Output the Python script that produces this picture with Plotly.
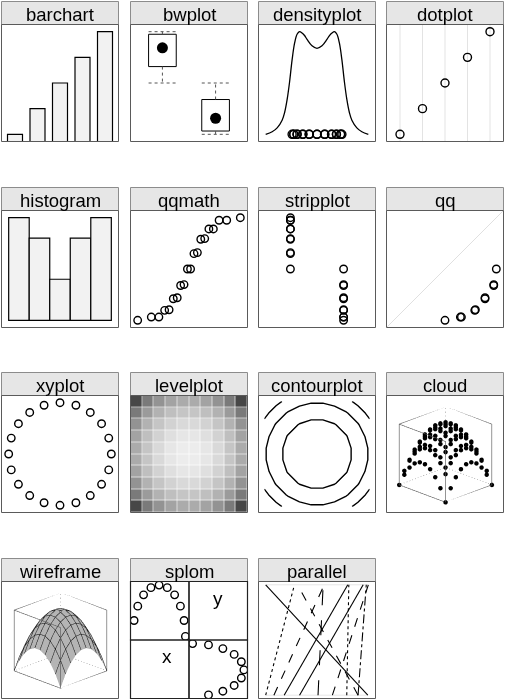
import numpy as np
import plotly.graph_objects as go

W, H = 506, 699

# ---------------- data ----------------
bar_categories = ["A", "B", "C", "D", "E"]
bar_values = [1, 2, 3, 4, 5]

group_a = [5.0, 6.5, 6.6, 7.9, 7.96, 8.9, 8.9, 9.75, 9.75, 10.0]
group_b = [0.0, 0.32, 0.32, 0.97, 1.03, 2.1, 2.2, 3.39, 3.48, 5.0]

density_x = [-5.3, -4.0, -3.0, -2.0, -1.5, -1.0, -0.5, 0.0, 0.5, 1.0, 1.5, 2.0, 2.5, 3.0,
             4.0, 5.0, 6.0, 7.0, 7.5, 8.0, 8.5, 9.0, 9.5, 10.0, 10.5, 11.0, 11.5, 12.0,
             13.0, 14.0, 15.3]
density_y = [0.000, 0.002, 0.005, 0.011, 0.017, 0.027, 0.041, 0.058, 0.071, 0.078, 0.080,
             0.079, 0.077, 0.074, 0.069, 0.067, 0.069, 0.074, 0.077, 0.079, 0.080, 0.078,
             0.071, 0.058, 0.041, 0.027, 0.017, 0.011, 0.005, 0.002, 0.000]

hist_edges = [0, 2, 4, 6, 8, 10]

normal_quantiles = [-1.96, -1.44, -1.15, -0.93, -0.76, -0.6, -0.45, -0.32, -0.19, -0.06,
                    0.06, 0.19, 0.32, 0.45, 0.6, 0.76, 0.93, 1.15, 1.44, 1.96]

circle_x = [1.0, 0.95, 0.81, 0.59, 0.31, 0.0, -0.31, -0.59, -0.81, -0.95,
            -1.0, -0.95, -0.81, -0.59, -0.31, 0.0, 0.31, 0.59, 0.81, 0.95]
circle_y = [0.0, 0.31, 0.59, 0.81, 0.95, 1.0, 0.95, 0.81, 0.59, 0.31,
            0.0, -0.31, -0.59, -0.81, -0.95, -1.0, -0.95, -0.81, -0.59, -0.31]

grid_coords = [-0.9, -0.7, -0.5, -0.3, -0.1, 0.1, 0.3, 0.5, 0.7, 0.9]
grid_z = [
    [162, 130, 106, 90, 82, 82, 90, 106, 130, 162],
    [130, 98, 74, 58, 50, 50, 58, 74, 98, 130],
    [106, 74, 50, 34, 26, 26, 34, 50, 74, 106],
    [90, 58, 34, 18, 10, 10, 18, 34, 58, 90],
    [82, 50, 26, 10, 2, 2, 10, 26, 50, 82],
    [82, 50, 26, 10, 2, 2, 10, 26, 50, 82],
    [90, 58, 34, 18, 10, 10, 18, 34, 58, 90],
    [106, 74, 50, 34, 26, 26, 34, 50, 74, 106],
    [130, 98, 74, 58, 50, 50, 58, 74, 98, 130],
    [162, 130, 106, 90, 82, 82, 90, 106, 130, 162],
]
contour_start, contour_end, contour_step = 36, 118, 41

parallel_bottom = [0.995, 0.18, 0.33, 0.0, 0.08, 0.90, 0.79, 0.65, 0.90, 0.51]
parallel_top = [0.0, 0.80, 0.95, 0.28, 0.57, 0.31, 0.81, 1.0, 0.98, 0.56]
parallel_dash = ["solid", "solid", "solid", "dot", "dash", "dash", "dot", "dash", "dashdot", "longdash"]

panel_titles = ["barchart", "bwplot", "densityplot", "dotplot",
                "histogram", "qqmath", "stripplot", "qq",
                "xyplot", "levelplot", "contourplot", "cloud",
                "wireframe", "splom", "parallel"]

# ---------------- layout helpers ----------------
COL_LEFT = [1, 130, 258, 386]
ROW_TOP = [1, 187, 372, 558]
PW, STRIP_H, PH = 117, 23, 117
FONT = "Liberation Sans, Arial, Helvetica, sans-serif"


def fx(p):
    return p / W


def fy(p):
    return 1 - p / H


def padded(lo, hi, f=0.07):
    d = hi - lo
    return [lo - f * d, hi + f * d]


def panel_box(i):
    r, c = divmod(i, 4)
    xl = COL_LEFT[c] + 0.5
    ys = ROW_TOP[r] + 0.5
    yt = ys + STRIP_H
    return xl, xl + PW, ys, yt, yt + PH


fig = go.Figure()
layout_axes = {}
shapes = []
annotations = []
counter = [0]


def new_axes(x0, x1, ytop, ybot, xr, yr):
    counter[0] += 1
    n = counter[0]
    s = "" if n == 1 else str(n)
    common = dict(visible=False, showgrid=False, zeroline=False, fixedrange=True)
    layout_axes["xaxis" + s] = dict(domain=[fx(x0), fx(x1)], range=xr, anchor="y" + s, **common)
    layout_axes["yaxis" + s] = dict(domain=[fy(ybot), fy(ytop)], range=yr, anchor="x" + s, **common)
    return "x" + s, "y" + s


def open_pts(xa, ya, x, y, size=7.5):
    fig.add_trace(go.Scatter(x=x, y=y, xaxis=xa, yaxis=ya, mode="markers", hoverinfo="skip",
                             marker=dict(symbol="circle-open", size=size, color="black",
                                         line=dict(width=1.4))))


def line(xa, ya, x, y, color="black", width=1.2, dash="solid", shape="linear"):
    fig.add_trace(go.Scatter(x=x, y=y, xaxis=xa, yaxis=ya, mode="lines", hoverinfo="skip",
                             line=dict(color=color, width=width, dash=dash, shape=shape)))


# strips and borders
for i, title in enumerate(panel_titles):
    xl, xr, ys, yt, yb = panel_box(i)
    shapes.append(dict(type="rect", xref="paper", yref="paper", layer="below",
                       x0=fx(xl), x1=fx(xr), y0=fy(yt), y1=fy(ys),
                       fillcolor="#e6e6e6", line=dict(color="#8c8c8c", width=1)))
    annotations.append(dict(text=title, xref="paper", yref="paper", showarrow=False,
                            x=fx((xl + xr) / 2), y=fy((ys + yt) / 2 + 1.5),
                            xanchor="center", yanchor="middle",
                            font=dict(family=FONT, size=18.5, color="black")))
    shapes.append(dict(type="rect", xref="paper", yref="paper", layer="above",
                       x0=fx(xl), x1=fx(xr), y0=fy(yb), y1=fy(yt),
                       line=dict(color="#5a5a5a", width=1)))

all_values = sorted(group_a + group_b)
vrange = padded(min(all_values), max(all_values))

# 1 barchart
xl, xr, ys, yt, yb = panel_box(0)
pos = list(range(1, len(bar_categories) + 1))
xa, ya = new_axes(xl, xr, yt, yb, [0.4, len(pos) + 0.6], padded(min(bar_values), max(bar_values)))
fig.add_trace(go.Bar(x=pos, y=bar_values, xaxis=xa, yaxis=ya, width=2 / 3, hoverinfo="skip",
                     marker=dict(color="#f2f2f2", line=dict(color="black", width=1.2))))


# 2 bwplot
def hinges(vals):
    s = sorted(vals)
    n = len(s)
    half = (n + 1) // 2
    return s[0], float(np.median(s[:half])), float(np.median(s)), float(np.median(s[n - half:])), s[-1]


xl, xr, ys, yt, yb = panel_box(1)
xa, ya = new_axes(xl, xr, yt, yb, [0.4, 2.6], vrange)
for p, g in zip([1, 2], [group_a, group_b]):
    lo, q1, med, q3, hi = hinges(g)
    hw = 0.26
    line(xa, ya, [p - hw, p + hw, p + hw, p - hw, p - hw], [q1, q1, q3, q3, q1], width=1)
    line(xa, ya, [p, p, None, p, p], [q3, hi, None, q1, lo], color="#555", width=1, dash="3px,3px")
    line(xa, ya, [p - hw, p + hw, None, p - hw, p + hw], [hi, hi, None, lo, lo], color="#555", width=1,
         dash="3px,3px")
    fig.add_trace(go.Scatter(x=[p], y=[med], xaxis=xa, yaxis=ya, mode="markers", hoverinfo="skip",
                             marker=dict(size=11, color="black")))

# 3 densityplot
xl, xr, ys, yt, yb = panel_box(2)
xa, ya = new_axes(xl, xr, yt, yb, padded(min(density_x), max(density_x)), padded(0, max(density_y)))
line(xa, ya, density_x, density_y, width=1.3, shape="spline")
open_pts(xa, ya, all_values, [0] * len(all_values), size=8)

# 4 dotplot
xl, xr, ys, yt, yb = panel_box(3)
yr = padded(min(bar_values), max(bar_values))
xa, ya = new_axes(xl, xr, yt, yb, [0.4, len(pos) + 0.6], yr)
for p in pos:
    line(xa, ya, [p, p], yr, color="#e3e3e3", width=1)
open_pts(xa, ya, pos, bar_values, size=8)

# 5 histogram
xl, xr, ys, yt, yb = panel_box(4)
counts, edges = np.histogram(all_values, bins=hist_edges)
pct = counts / counts.sum() * 100
centers = [(edges[k] + edges[k + 1]) / 2 for k in range(len(counts))]
xa, ya = new_axes(xl, xr, yt, yb, padded(edges[0], edges[-1]), padded(0, float(pct.max())))
fig.add_trace(go.Bar(x=centers, y=pct, xaxis=xa, yaxis=ya, width=float(edges[1] - edges[0]),
                     hoverinfo="skip",
                     marker=dict(color="#f2f2f2", line=dict(color="black", width=1.2))))

# 6 qqmath
xl, xr, ys, yt, yb = panel_box(5)
xa, ya = new_axes(xl, xr, yt, yb, padded(min(normal_quantiles), max(normal_quantiles)), vrange)
open_pts(xa, ya, normal_quantiles, all_values)

# 7 stripplot
xl, xr, ys, yt, yb = panel_box(6)
xa, ya = new_axes(xl, xr, yt, yb, [0.4, 2.6], vrange)
open_pts(xa, ya, [1] * len(group_a) + [2] * len(group_b), group_a + group_b)

# 8 qq
xl, xr, ys, yt, yb = panel_box(7)
xa, ya = new_axes(xl, xr, yt, yb, vrange, vrange)
line(xa, ya, vrange, vrange, color="#e0e0e0", width=1)
open_pts(xa, ya, sorted(group_a), sorted(group_b))

# 9 xyplot
xl, xr, ys, yt, yb = panel_box(8)
xa, ya = new_axes(xl, xr, yt, yb, padded(min(circle_x), max(circle_x)), padded(min(circle_y), max(circle_y)))
open_pts(xa, ya, circle_x, circle_y)

# 10 levelplot
step = grid_coords[1] - grid_coords[0]
grange = [grid_coords[0] - step / 2, grid_coords[-1] + step / 2]
xl, xr, ys, yt, yb = panel_box(9)
xa, ya = new_axes(xl, xr, yt, yb, grange, grange)
fig.add_trace(go.Heatmap(x=grid_coords, y=grid_coords, z=grid_z, xaxis=xa, yaxis=ya, showscale=False,
                         hoverinfo="skip", xgap=0.6, ygap=0.6,
                         colorscale=[[0, "#ececec"], [0.5, "#ababab"], [0.8, "#7a7a7a"], [1, "#474747"]]))

# 11 contourplot
xl, xr, ys, yt, yb = panel_box(10)
xa, ya = new_axes(xl, xr, yt, yb, grange, grange)
fig.add_trace(go.Contour(x=grid_coords, y=grid_coords, z=grid_z, xaxis=xa, yaxis=ya, showscale=False,
                         hoverinfo="skip", autocontour=False,
                         contours=dict(start=contour_start, end=contour_end, size=contour_step,
                                       coloring="none"),
                         line=dict(color="black", width=1.4, smoothing=0)))

# 3D helpers
zneg = [[-v for v in row] for row in grid_z]
zmin = min(min(r) for r in zneg)
zmax = max(max(r) for r in zneg)
x0b, x1b = grid_coords[0], grid_coords[-1]


def cube_traces(scene):
    corners = [(a, b, c) for a in (x0b, x1b) for b in (x0b, x1b) for c in (zmin, zmax)]
    hidden = (x0b, x0b, zmin)
    sx, sy, sz, dx, dy, dz = [], [], [], [], [], []
    for i1 in range(len(corners)):
        for i2 in range(i1 + 1, len(corners)):
            p, q = corners[i1], corners[i2]
            if sum(1 for k in range(3) if p[k] != q[k]) != 1:
                continue
            if p == hidden or q == hidden:
                tx, ty, tz = dx, dy, dz
            else:
                tx, ty, tz = sx, sy, sz
            tx += [p[0], q[0], None]
            ty += [p[1], q[1], None]
            tz += [p[2], q[2], None]
    fig.add_trace(go.Scatter3d(x=sx, y=sy, z=sz, mode="lines", scene=scene, hoverinfo="skip",
                               line=dict(color="#555555", width=1.2)))
    fig.add_trace(go.Scatter3d(x=dx, y=dy, z=dz, mode="lines", scene=scene, hoverinfo="skip",
                               line=dict(color="#888888", width=1, dash="dash")))


# 12 cloud
cx, cy, cz = [], [], []
for iy, yv in enumerate(grid_coords):
    for ix, xv in enumerate(grid_coords):
        cx.append(xv)
        cy.append(yv)
        cz.append(zneg[iy][ix])
cube_traces("scene")
fig.add_trace(go.Scatter3d(x=cx, y=cy, z=cz, mode="markers", scene="scene", hoverinfo="skip",
                           marker=dict(size=2.6, color="black")))

# 13 wireframe
cube_traces("scene2")
fig.add_trace(go.Surface(x=grid_coords, y=grid_coords, z=zneg, scene="scene2", showscale=False,
                         hoverinfo="skip", colorscale=[[0, "#d4d4d4"], [1, "#d4d4d4"]],
                         lighting=dict(ambient=0.85, diffuse=0.35, specular=0.0, roughness=1, fresnel=0),
                         lightposition=dict(x=60000, y=100000, z=100000),
                         contours=dict(
                             x=dict(show=True, start=x0b, end=x1b, size=step, color="#111111", width=1,
                                    highlight=False),
                             y=dict(show=True, start=x0b, end=x1b, size=step, color="#111111", width=1,
                                    highlight=False),
                             z=dict(highlight=False))))


def scene_layout(i):
    xl, xr, ys, yt, yb = panel_box(i)
    ax = dict(visible=False, showbackground=False, showspikes=False)
    return dict(domain=dict(x=[fx(xl), fx(xr)], y=[fy(yb), fy(yt)]),
                xaxis=dict(range=[x0b, x1b], **ax), yaxis=dict(range=[x0b, x1b], **ax),
                zaxis=dict(range=[zmin, zmax], **ax),
                aspectmode="manual", aspectratio=dict(x=1.12, y=1.12, z=1.12),
                bgcolor="rgba(0,0,0,0)", dragmode=False,
                camera=dict(eye=dict(x=1.24, y=1.24, z=0.71), center=dict(x=0, y=0, z=0),
                            up=dict(x=0, y=0, z=1), projection=dict(type="orthographic")))


# 14 splom
xl, xr, ys, yt, yb = panel_box(13)
xm, ym = (xl + xr) / 2, (yt + yb) / 2
half_x = circle_x[:len(circle_x) // 2]
half_y = circle_y[:len(circle_y) // 2]
rx, ry = padded(min(half_x), max(half_x)), padded(min(half_y), max(half_y))
xa, ya = new_axes(xl, xm, yt, ym, rx, ry)
open_pts(xa, ya, half_x, half_y)
xa, ya = new_axes(xm, xr, ym, yb, ry, rx)
open_pts(xa, ya, half_y, half_x)
for (a0, a1, b0, b1) in [(xl, xm, yt, ym), (xm, xr, yt, ym), (xl, xm, ym, yb), (xm, xr, ym, yb)]:
    shapes.append(dict(type="rect", xref="paper", yref="paper", layer="above",
                       x0=fx(a0), x1=fx(a1), y0=fy(b1), y1=fy(b0), line=dict(color="#222", width=1.2)))
annotations.append(dict(text="y", xref="paper", yref="paper", showarrow=False,
                        x=fx((xm + xr) / 2), y=fy((yt + ym) / 2), font=dict(family=FONT, size=19, color="black")))
annotations.append(dict(text="x", xref="paper", yref="paper", showarrow=False,
                        x=fx((xl + xm) / 2), y=fy((ym + yb) / 2), font=dict(family=FONT, size=19, color="black")))

# 15 parallel
xl, xr, ys, yt, yb = panel_box(14)
xa, ya = new_axes(xl, xr, yt, yb, padded(0, 1), [0.97, 2.03])
line(xa, ya, [0, 1], [1, 1], color="#e6e6e6", width=1)
line(xa, ya, [0, 1], [2, 2], color="#e6e6e6", width=1)
for b, t, d in zip(parallel_bottom, parallel_top, parallel_dash):
    line(xa, ya, [b, t], [1, 2], width=1.1, dash=d)

fig.update_layout(width=W, height=H, margin=dict(l=0, r=0, t=0, b=0), showlegend=False,
                  paper_bgcolor="white", plot_bgcolor="rgba(0,0,0,0)",
                  shapes=shapes, annotations=annotations,
                  scene=scene_layout(11), scene2=scene_layout(12), **layout_axes)
fig.write_html("out.html")
